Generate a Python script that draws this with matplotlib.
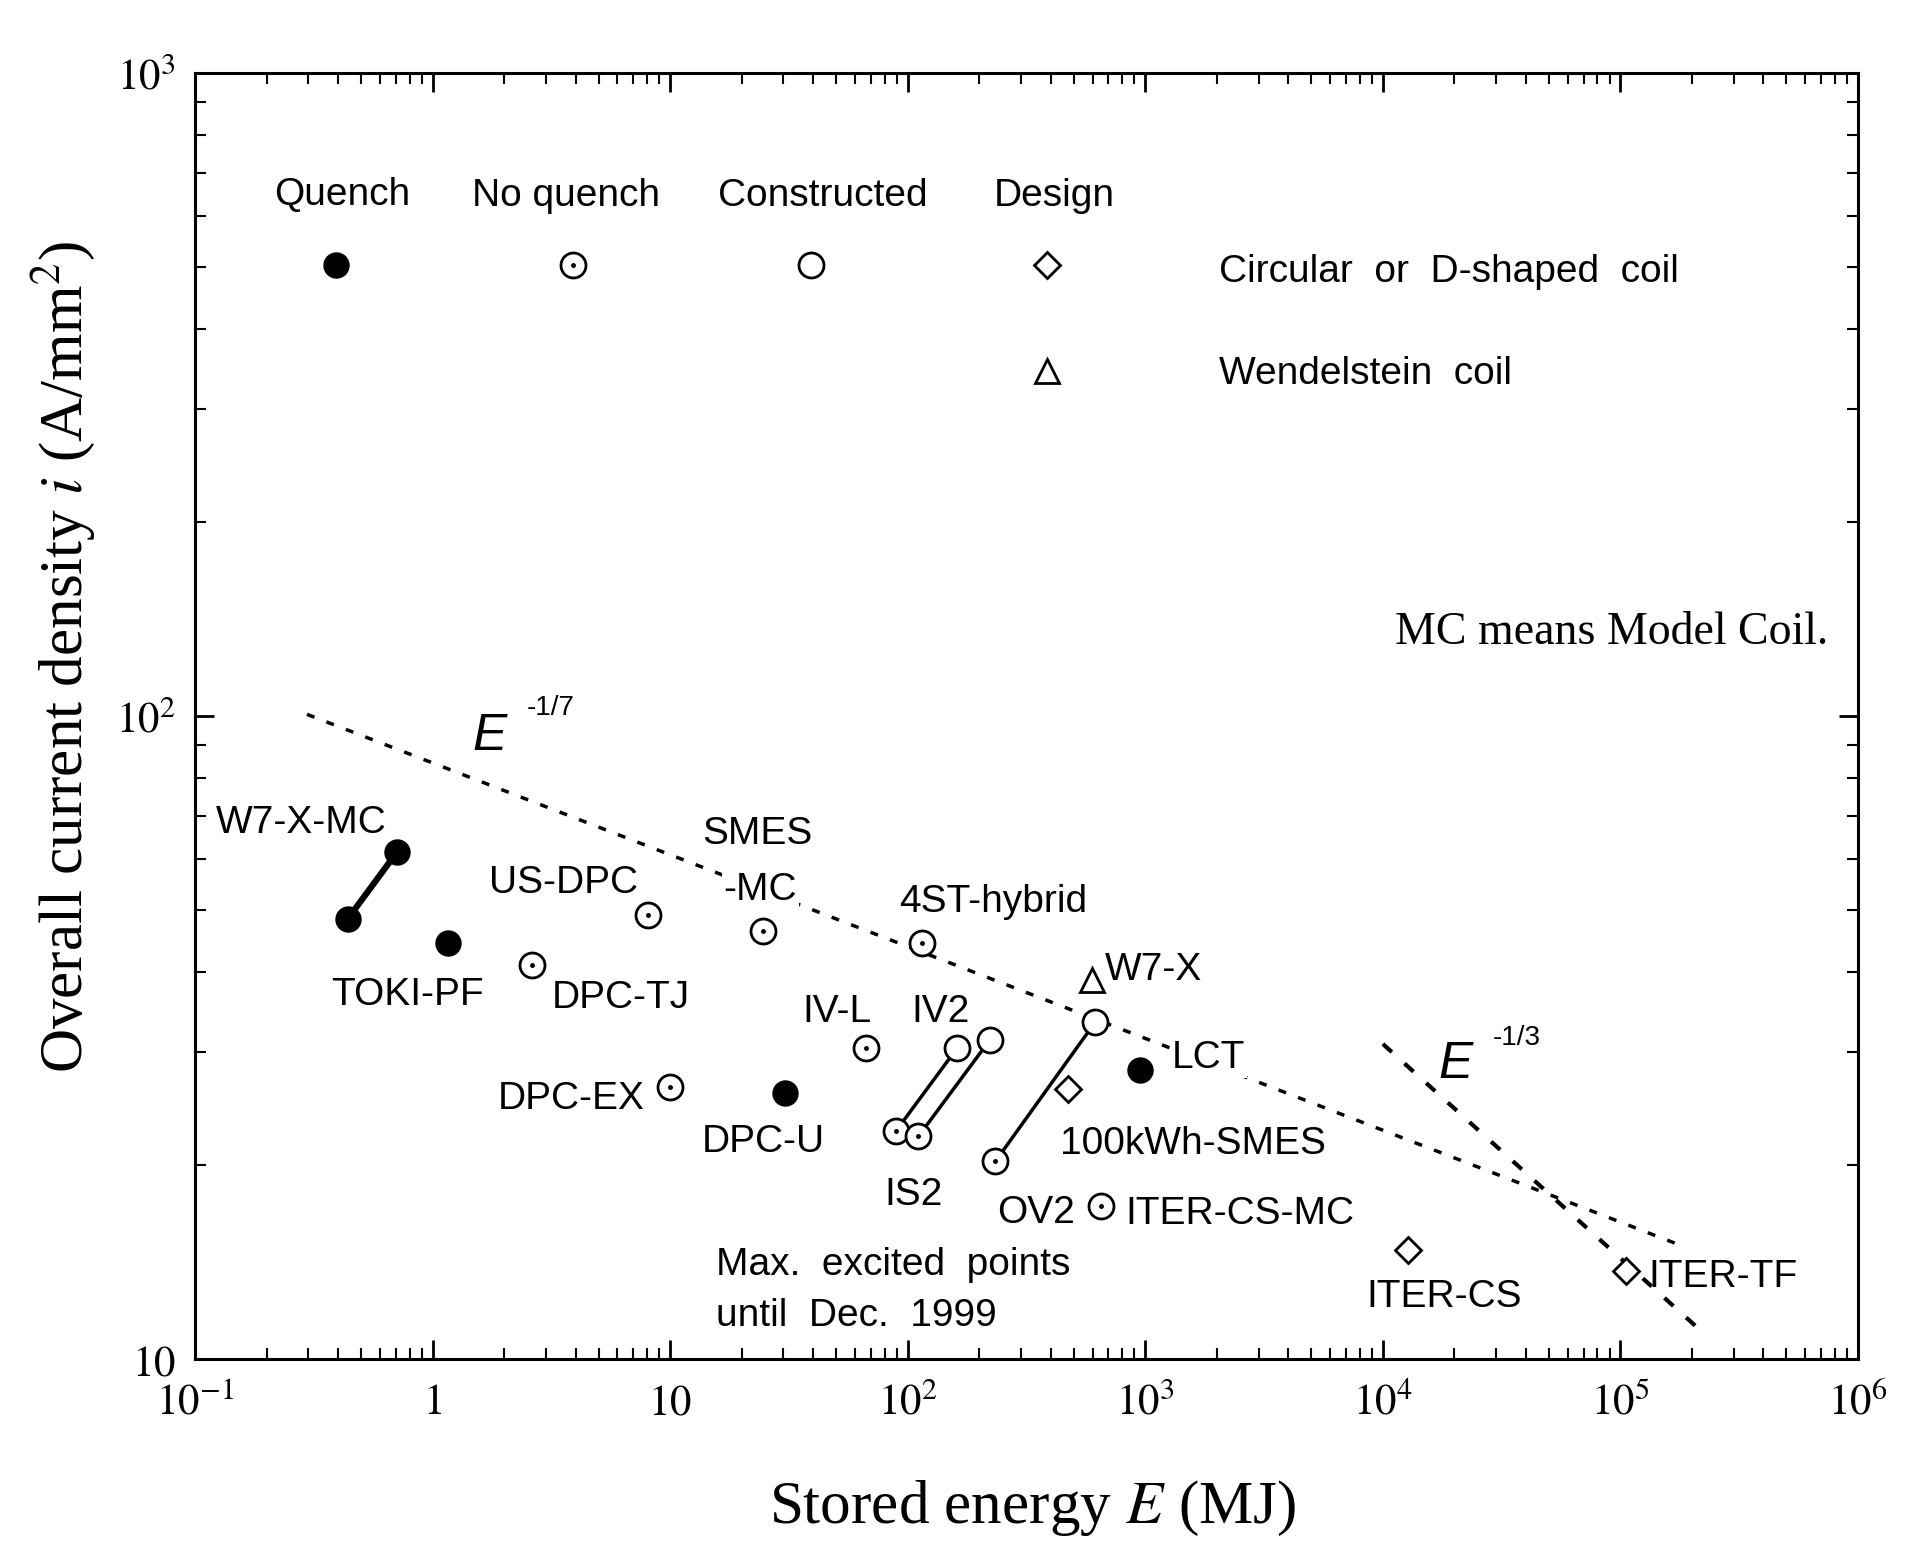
import matplotlib.pyplot as plt
from matplotlib import font_manager
from matplotlib.ticker import FixedLocator, FixedFormatter, LogLocator, NullFormatter

plt.rcParams['mathtext.fontset'] = 'stix'

# --- data (E in MJ, j in A/mm^2) ---
# quench (filled circles)
quench_E = [0.44, 0.71, 1.16, 30.4, 951]
quench_j = [48.4, 61.5, 44.4, 25.9, 28.2]
# no quench (circle with dot)
noq_E = [2.62, 8.1, 24.6, 115, 67, 10.0, 89, 111, 234, 653]
noq_j = [41.0, 49.1, 46.3, 44.4, 30.5, 26.5, 22.6, 22.2, 20.3, 17.3]
# constructed (open circles)
cons_E = [162, 221, 615]
cons_j = [30.5, 31.3, 33.4]
# design (diamonds)
design_E = [475, 12700, 106000]
design_j = [26.3, 14.8, 13.7]
# Wendelstein coil (triangle)
wend_E = [594]
wend_j = [38.8]

# connected pairs: W7-X-MC, IS2, IV2, OV2
pair_E = [[0.44, 0.71], [89, 162], [111, 221], [234, 615]]
pair_j = [[48.4, 61.5], [22.6, 30.5], [22.2, 31.3], [20.3, 33.4]]

# scaling guide lines (end points)
guide7_E = [0.296, 1.77e5]
guide7_j = [100.6, 15.05]
guide3_E = [1.0e4, 2.16e5]
guide3_j = [30.9, 11.1]

# key symbols at top of plot
key_E = [0.393, 3.91, 39, 384]
key_j = [502, 502, 502, 502]
key_tri_E = [384]
key_tri_j = [344]

x_ticks = [1e-1, 1, 10, 1e2, 1e3, 1e4, 1e5, 1e6]
x_labels = ['$10^{-1}$', '$1$', '$10$', '$10^{2}$', '$10^{3}$',
            '$10^{4}$', '$10^{5}$', '$10^{6}$']
y_ticks = [10, 100, 1000]
y_labels = ['$10$', '$10^{2}$', '$10^{3}$']

# fonts
names = {f.name for f in font_manager.fontManager.ttflist}
if 'Liberation Sans Narrow' in names:
    sans, fs = 'Liberation Sans Narrow', 32
else:
    sans, fs = 'Liberation Sans', 28
serif = 'Liberation Serif'

fig = plt.figure(figsize=(19.08, 15.41), dpi=100)
ax = fig.add_axes([0.1022, 0.1181, 0.8716, 0.8345])
ax.set_xscale('log')
ax.set_yscale('log')
ax.set_xlim(0.1, 1e6)
ax.set_ylim(10, 1000)

# guide lines
ax.plot(guide7_E, guide7_j, color='black', lw=2.5, ls=(0, (2.3, 3.7)), zorder=1)
ax.plot(guide3_E, guide3_j, color='black', lw=3, ls=(0, (2.9, 4.1)), zorder=1)

# pair connectors
for i, (pe, pj) in enumerate(zip(pair_E, pair_j)):
    ax.plot(pe, pj, color='black', lw=4.5 if i == 0 else 2.5, zorder=2)

ms = 18
ax.plot(quench_E, quench_j, 'o', ms=18, mfc='black', mec='black', zorder=3)
ax.plot(noq_E, noq_j, 'o', ms=ms, mfc='white', mec='black', mew=2, zorder=3)
ax.plot(noq_E, noq_j, 'o', ms=2.5, mfc='black', mec='black', zorder=4)
ax.plot(cons_E, cons_j, 'o', ms=ms, mfc='white', mec='black', mew=2, zorder=3)
ax.plot(design_E, design_j, 'D', ms=13, mfc='white', mec='black', mew=2, zorder=3)
ax.plot(wend_E, wend_j, '^', ms=17, mfc='white', mec='black', mew=2, zorder=3)

# key symbols
ax.plot(key_E[0], key_j[0], 'o', ms=18, mfc='black', mec='black')
ax.plot(key_E[1], key_j[1], 'o', ms=ms, mfc='white', mec='black', mew=2)
ax.plot(key_E[1], key_j[1], 'o', ms=2.5, mfc='black', mec='black')
ax.plot(key_E[2], key_j[2], 'o', ms=ms, mfc='white', mec='black', mew=2)
ax.plot(key_E[3], key_j[3], 'D', ms=13, mfc='white', mec='black', mew=2)
ax.plot(key_tri_E, key_tri_j, '^', ms=17, mfc='white', mec='black', mew=2)

T = ax.transAxes
blank = dict(facecolor='white', edgecolor='none', pad=1)
def lab(s, fx, fy, ha='center', **kw):
    ax.text(fx, fy, s, transform=T, ha=ha, va='center', family=sans,
            fontsize=kw.pop('size', fs), zorder=5, **kw)

lab('Quench', 0.0885, 0.905)
lab('No quench', 0.223, 0.904)
lab('Constructed', 0.3775, 0.904)
lab('Design', 0.5165, 0.904)
lab('Circular  or  D-shaped  coil', 0.616, 0.845, ha='left')
lab('Wendelstein  coil', 0.616, 0.766, ha='left')

lab('W7-X-MC', 0.0636, 0.417)
lab('TOKI-PF', 0.128, 0.283)
lab('DPC-TJ', 0.256, 0.281)
lab('US-DPC', 0.2217, 0.370)
lab('SMES', 0.338, 0.408)
lab('-MC', 0.340, 0.365, bbox=blank)
lab('4ST-hybrid', 0.480, 0.355)
lab('IV-L', 0.386, 0.270)
lab('IV2', 0.4484, 0.270)
lab('DPC-EX', 0.226, 0.2025)
lab('DPC-U', 0.3416, 0.1684)
lab('IS2', 0.4323, 0.1277)
lab('OV2', 0.506, 0.1135)
lab('W7-X', 0.547, 0.3027, ha='left')
lab('LCT', 0.5874, 0.2337, ha='left', bbox=blank)
lab('100kWh-SMES', 0.600, 0.1675)
lab('ITER-CS-MC', 0.5596, 0.1126, ha='left')
lab('Max.  excited  points', 0.313, 0.0728, ha='left')
lab('until  Dec.  1999', 0.313, 0.0331, ha='left')
lab('ITER-CS', 0.7513, 0.0482)
lab('ITER-TF', 0.874, 0.0634, ha='left')

# power-law annotations
lab('E', 0.177, 0.4844, style='italic', size=fs + 9)
lab('-1/7', 0.2136, 0.506, size=fs - 8)
lab('E', 0.758, 0.229, style='italic', size=fs + 9)
lab('-1/3', 0.795, 0.250, size=fs - 8)

ax.text(0.9824, 0.565, 'MC means Model Coil.', transform=T, ha='right',
        va='center', family=serif, fontsize=33)

# axes styling
ax.xaxis.set_major_locator(FixedLocator(x_ticks))
ax.xaxis.set_major_formatter(FixedFormatter(x_labels))
ax.xaxis.set_minor_locator(LogLocator(base=10, subs=range(2, 10), numticks=20))
ax.xaxis.set_minor_formatter(NullFormatter())
ax.yaxis.set_major_locator(FixedLocator(y_ticks))
ax.yaxis.set_major_formatter(FixedFormatter(y_labels))
ax.yaxis.set_minor_locator(LogLocator(base=10, subs=range(2, 10), numticks=20))
ax.yaxis.set_minor_formatter(NullFormatter())
ax.tick_params(which='both', direction='in', top=True, right=True)
ax.tick_params(which='major', length=14, width=2, labelsize=31)
ax.tick_params(axis='x', which='major', pad=16)
ax.tick_params(axis='y', which='major', pad=14)
ax.tick_params(which='minor', length=8, width=1.5)
for sp in ax.spines.values():
    sp.set_linewidth(2.2)

fig.text(0.541, 0.021, 'Stored energy $E$ (MJ)', ha='center', va='center',
         family=serif, fontsize=44)
fig.text(0.033, 0.574, 'Overall current density $i$ (A/mm$^2$)', ha='center',
         va='center', rotation=90, family=serif, fontsize=44)

fig.savefig('out.png', dpi=100)
